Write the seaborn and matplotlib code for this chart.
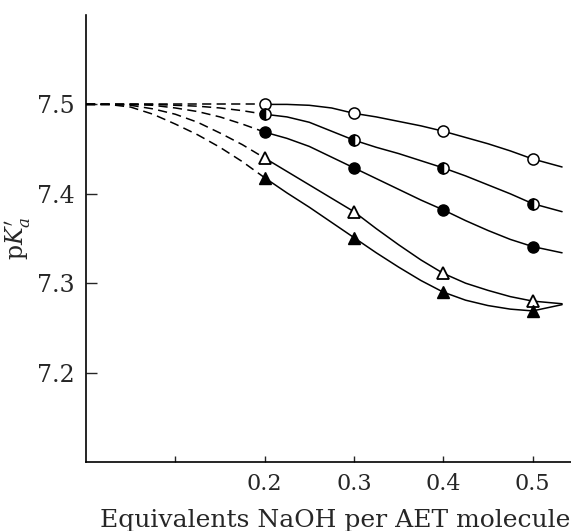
import matplotlib
matplotlib.use("Agg")
import matplotlib.pyplot as plt
import seaborn as sns

# measured points (equivalents NaOH, pKa')
marker_x = [0.2, 0.3, 0.4, 0.5]
open_circle = [7.500, 7.490, 7.470, 7.439]
half_circle = [7.489, 7.460, 7.429, 7.389]
filled_circle = [7.469, 7.429, 7.382, 7.341]
open_tri = [7.440, 7.380, 7.311, 7.280]
filled_tri = [7.418, 7.351, 7.290, 7.269]

# drawn curves (solid part)
curve_x = [0.2, 0.225, 0.25, 0.275, 0.3, 0.325, 0.35, 0.375, 0.4, 0.425, 0.45, 0.475, 0.5, 0.533]
open_circle_curve = [7.500, 7.500, 7.499, 7.496, 7.490, 7.486, 7.481, 7.476, 7.470, 7.463,
                     7.456, 7.448, 7.439, 7.430]
half_circle_curve = [7.489, 7.486, 7.480, 7.470, 7.460, 7.452, 7.445, 7.437, 7.429, 7.420,
                     7.410, 7.400, 7.389, 7.380]
filled_circle_curve = [7.469, 7.462, 7.453, 7.441, 7.429, 7.417, 7.405, 7.393, 7.382, 7.370,
                       7.359, 7.349, 7.341, 7.334]
open_tri_curve = [7.440, 7.425, 7.410, 7.395, 7.380, 7.361, 7.343, 7.326, 7.311, 7.300,
                  7.292, 7.285, 7.280, 7.277]
filled_tri_curve = [7.418, 7.401, 7.385, 7.368, 7.351, 7.334, 7.318, 7.303, 7.290, 7.281,
                    7.275, 7.271, 7.269, 7.276]

# extrapolated (dashed) part back to zero
dash_x = [0.0, 0.025, 0.05, 0.075, 0.1, 0.125, 0.15, 0.175, 0.2]
open_circle_dash = [7.500, 7.500, 7.500, 7.500, 7.500, 7.500, 7.500, 7.500, 7.500]
half_circle_dash = [7.500, 7.500, 7.500, 7.500, 7.499, 7.498, 7.496, 7.493, 7.489]
filled_circle_dash = [7.500, 7.500, 7.500, 7.499, 7.496, 7.492, 7.486, 7.478, 7.469]
open_tri_dash = [7.500, 7.500, 7.499, 7.495, 7.489, 7.480, 7.468, 7.455, 7.440]
filled_tri_dash = [7.500, 7.500, 7.497, 7.489, 7.478, 7.466, 7.452, 7.436, 7.418]

x_ticks = [0.1, 0.2, 0.3, 0.4, 0.5]
x_tick_labels = ["", "0.2", "0.3", "0.4", "0.5"]
y_ticks = [7.2, 7.3, 7.4, 7.5]
y_tick_labels = ["7.2", "7.3", "7.4", "7.5"]

sns.set_style("ticks")
plt.rcParams["font.family"] = ["DejaVu Serif"]
plt.rcParams["mathtext.fontset"] = "dejavuserif"

fig = plt.figure(figsize=(5.71, 5.31), dpi=100)
ax = fig.add_axes([86 / 571, 69 / 531, 485 / 571, 447 / 531])

curves = [open_circle_curve, half_circle_curve, filled_circle_curve, open_tri_curve, filled_tri_curve]
dashes = [open_circle_dash, half_circle_dash, filled_circle_dash, open_tri_dash, filled_tri_dash]
for c, d in zip(curves, dashes):
    sns.lineplot(x=curve_x, y=c, ax=ax, color="black", lw=1.1, sort=False, estimator=None)
    sns.lineplot(x=dash_x, y=d, ax=ax, color="black", lw=1.1, sort=False, estimator=None,
                 linestyle=(0, (6, 3.5)))

# markers
ax.plot(marker_x, open_circle, "o", ms=8, mfc="white", mec="black", mew=1.1, zorder=5)
ax.plot(marker_x, half_circle, "o", ms=8, fillstyle="left", mfc="black", mfcalt="white",
        mec="black", mew=1.1, zorder=5)
ax.plot(marker_x, filled_circle, "o", ms=8, mfc="black", mec="black", zorder=5)
ax.plot(marker_x, open_tri, "^", ms=8, mfc="white", mec="black", mew=1.3, zorder=5)
ax.plot(marker_x, filled_tri, "^", ms=8, mfc="black", mec="black", zorder=5)

ax.set_xlim(0, 0.543)
ax.set_ylim(7.1, 7.6)
ax.set_xticks(x_ticks)
ax.set_xticklabels(x_tick_labels, fontsize=16)
ax.set_yticks(y_ticks)
ax.set_yticklabels(y_tick_labels, fontsize=17)
ax.tick_params(axis="x", direction="in", length=4, width=1, pad=8)
ax.tick_params(axis="y", direction="in", length=8, width=1, pad=8)

sns.despine(ax=ax)
for s in ["left", "bottom"]:
    ax.spines[s].set_linewidth(1.2)
    ax.spines[s].set_color("black")

ax.set_ylabel(r"p$K_a^{\prime}$", fontsize=17, labelpad=3)
ax.set_xlabel("Equivalents NaOH per AET molecule", fontsize=18, ha="left")
ax.xaxis.set_label_coords(14 / 485, -0.105)

fig.savefig("out.png", dpi=100)
